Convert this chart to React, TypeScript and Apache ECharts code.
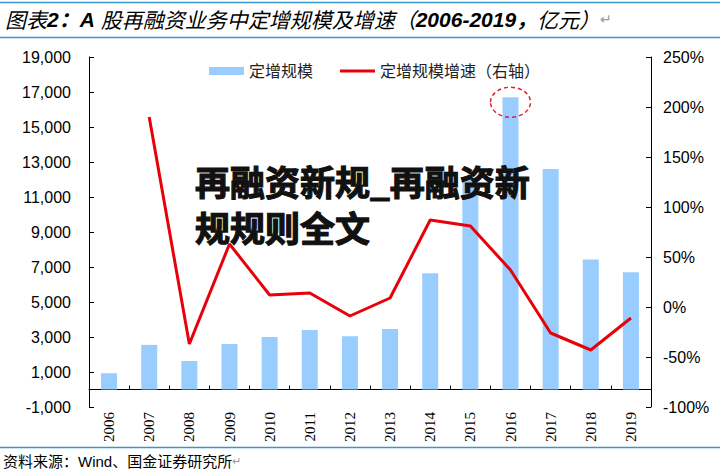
import React, { useEffect, useRef } from "react";
import * as echarts from "echarts";

const years = ["2006", "2007", "2008", "2009", "2010", "2011", "2012", "2013", "2014", "2015", "2016", "2017", "2018", "2019"];
const scaleValues = [930, 2550, 1630, 2600, 3000, 3400, 3050, 3460, 6640, 12100, 16700, 12600, 7430, 6700];
const growthValues: (number | null)[] = [null, 190, -37, 63, 12, 14, -9, 9, 87, 81, 37, -26, -43, -11];
const leftTicks = [-1000, 1000, 3000, 5000, 7000, 9000, 11000, 13000, 15000, 17000, 19000];
const rightMin = -100;
const rightMax = 250;
const rightInterval = 50;
const seriesNames = ["定增规模", "定增规模增速（右轴）"];
const highlightYear = "2016";
const watermark = "再融资新规_再融资新\n规规则全文";
const footerText = "资料来源：Wind、国金证券研究所";

const BLUE_LINE = "#3a96d0";

export default function App() {
  const ref = useRef<HTMLDivElement>(null);
  useEffect(() => {
    if (!ref.current) return;
    const chart = echarts.init(ref.current, undefined, { renderer: "svg" });
    const axisFont = "'Liberation Sans', Arial, sans-serif";
    const cjk = "'Liberation Sans', 'Noto Sans CJK SC', sans-serif";
    const option: any = {
      animation: false,
      backgroundColor: "#fff",
      grid: { left: 89, right: 69, top: 57, bottom: 63, containLabel: false, outerBoundsMode: "none" },
      legend: {
        left: 204,
        top: 58,
        itemWidth: 35,
        itemHeight: 8,
        itemGap: 27,
        symbolKeepAspect: true,
        textStyle: { fontFamily: cjk, fontSize: 16, color: "#222" },
        data: [
          { name: seriesNames[0], icon: "rect" },
          { name: seriesNames[1], icon: "path://M0,0H35V3H0Z", itemStyle: { color: "#E8000B" } },
        ],
      },
      xAxis: {
        type: "category",
        data: years,
        boundaryGap: true,
        axisLine: { show: true, onZero: true, onZeroAxisIndex: 0, lineStyle: { color: "#000", width: 1 } },
        axisTick: { show: true, inside: true, length: 4, alignWithLabel: false, lineStyle: { color: "#000" } },
        axisLabel: {
          rotate: 90,
          margin: 5,
          color: "#000",
          fontFamily: "'Liberation Serif', serif",
          fontSize: 15,
          interval: 0,
        },
        splitLine: { show: false },
      },
      yAxis: [
        {
          type: "value",
          min: -1000,
          max: 19000,
          position: "left",
          axisLine: { show: true, onZero: false, lineStyle: { color: "#000", width: 1 } },
          axisTick: { show: true, inside: true, length: 5, customValues: leftTicks, lineStyle: { color: "#000" } },
          axisLabel: {
            customValues: leftTicks,
            margin: 18,
            color: "#000",
            fontFamily: axisFont,
            fontSize: 16,
            formatter: (v: number) => v.toLocaleString("en-US"),
          },
          splitLine: { show: false },
        },
        {
          type: "value",
          min: rightMin,
          max: rightMax,
          interval: rightInterval,
          position: "right",
          axisLine: { show: true, onZero: false, lineStyle: { color: "#000", width: 1 } },
          axisTick: { show: true, inside: true, length: 5, lineStyle: { color: "#000" } },
          axisLabel: {
            margin: 12,
            color: "#000",
            fontFamily: axisFont,
            fontSize: 16,
            formatter: "{value}%",
          },
          splitLine: { show: false },
        },
      ],
      series: [
        {
          name: seriesNames[0],
          type: "bar",
          yAxisIndex: 0,
          data: scaleValues,
          barWidth: 16,
          itemStyle: { color: "#99CCFF" },
          z: 2,
        },
        {
          name: seriesNames[1],
          type: "line",
          yAxisIndex: 1,
          data: growthValues,
          symbol: "none",
          showSymbol: false,
          connectNulls: false,
          itemStyle: { color: "#E8000B" },
          lineStyle: { color: "#E8000B", width: 3 },
          z: 3,
        },
      ],
      graphic: [
        { type: "line", shape: { x1: 0, y1: 2.5, x2: 720, y2: 2.5 }, style: { stroke: BLUE_LINE, lineWidth: 1.5 } },
        { type: "line", shape: { x1: 0, y1: 37.5, x2: 720, y2: 37.5 }, style: { stroke: BLUE_LINE, lineWidth: 1.5 } },
        {
          type: "text",
          x: 5,
          y: 19,
          style: {
            text: "{n|图表}{b|2：A }{n|股再融资业务中定增规模及增速（}{b|2006-2019，}{n|亿元）}{r|↵}",
            verticalAlign: "middle",
            textVerticalAlign: "middle",
            rich: {
              n: { fontFamily: "'Noto Sans CJK SC', sans-serif", fontStyle: "italic", fontSize: 21, fill: "#000", color: "#000" },
              b: { fontFamily: cjk, fontStyle: "italic", fontWeight: "bold", fontSize: 21, fill: "#000", color: "#000" },
              r: { fontFamily: "'DejaVu Sans', sans-serif", fontSize: 14, fill: "#999", color: "#999" },
            },
          },
        },
        { type: "line", shape: { x1: 0, y1: 447.5, x2: 720, y2: 447.5 }, style: { stroke: BLUE_LINE, lineWidth: 1.5 } },
        {
          type: "text",
          x: 3,
          y: 461,
          style: {
            text: "{n|" + footerText + "}{r|↵}",
            verticalAlign: "middle",
            textVerticalAlign: "middle",
            rich: {
              n: { fontFamily: cjk, fontSize: 15, fill: "#000", color: "#000" },
              r: { fontFamily: "'DejaVu Sans', sans-serif", fontSize: 11, fill: "#999", color: "#999" },
            },
          },
        },
        {
          type: "text",
          x: 195,
          y: 157,
          z: 100,
          style: {
            text: watermark,
            font: "bold 35px 'Noto Sans CJK SC', sans-serif",
            fontFamily: "'Noto Sans CJK SC', sans-serif",
            fontWeight: "bold",
            fontSize: 35,
            lineHeight: 46,
            fill: "#111",
            stroke: "#111",
            lineWidth: 1.2,
          },
        },
      ],
    };
    chart.setOption(option);
    const idx = years.indexOf(highlightYear);
    const pt = chart.convertToPixel({ xAxisIndex: 0, yAxisIndex: 0 }, [highlightYear, scaleValues[idx]]) as number[];
    if (pt) {
      chart.setOption({
        graphic: [
          ...option.graphic,
          {
            type: "ellipse",
            z: 50,
            shape: { cx: pt[0], cy: pt[1] + 5, rx: 20, ry: 15 },
            style: { fill: "none", stroke: "#E0202A", lineWidth: 1.5, lineDash: [4, 3] },
          },
        ],
      });
    }
    return () => chart.dispose();
  }, []);
  return (
    <div
      ref={ref}
      style={{ position: "absolute", left: 0, top: 0, width: 720, height: 470, background: "#fff" }}
    />
  );
}
